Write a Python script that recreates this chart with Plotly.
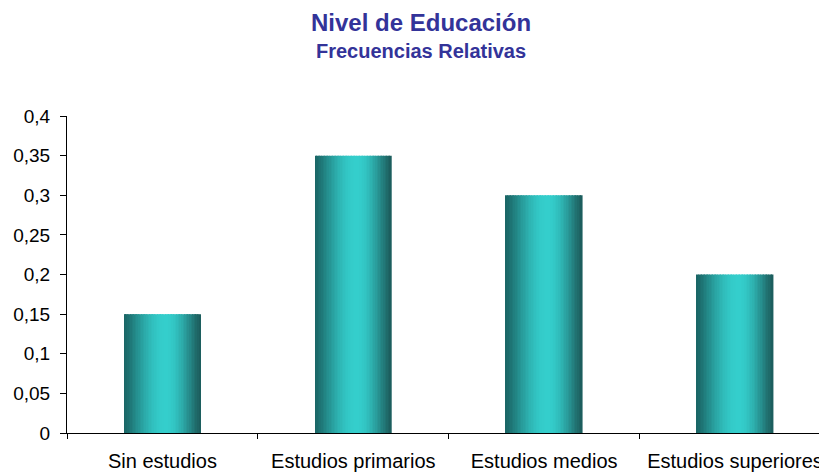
import plotly.graph_objects as go
import math

categories = ["Sin estudios", "Estudios primarios", "Estudios medios", "Estudios superiores"]
values = [0.15, 0.35, 0.30, 0.20]
ytick_vals = [0, 0.05, 0.1, 0.15, 0.2, 0.25, 0.3, 0.35, 0.4]
ytick_text = ["0", "0,05", "0,1", "0,15", "0,2", "0,25", "0,3", "0,35", "0,4"]

BAR_W = 0.40
N = 48
dark_l = (26, 100, 100)
dark_r = (28, 92, 92)
light = (52, 206, 204)

def shade(t):
    peak = 0.55
    if t <= peak:
        u = t / peak
        base = dark_l
    else:
        u = (1 - t) / (1 - peak)
        base = dark_r
    k = math.sin(u * math.pi / 2) ** 1.2
    return tuple(int(round(base[i] + (light[i] - base[i]) * k)) for i in range(3))

fig = go.Figure()
sw = BAR_W / N
for i in range(N):
    t = (i + 0.5) / N
    c = "rgb(%d,%d,%d)" % shade(t)
    fig.add_trace(go.Bar(
        x=categories, y=values,
        width=[sw * 1.15] * len(values),
        offset=[-BAR_W / 2 + i * sw] * len(values),
        marker=dict(color=c, line=dict(width=0)),
        showlegend=False, hoverinfo="skip",
    ))

fig.update_layout(
    width=819, height=473,
    margin=dict(l=67, r=0, t=116, b=40, autoexpand=False),
    paper_bgcolor="white", plot_bgcolor="white",
    barmode="overlay",
    font=dict(family="Liberation Sans, Arial, sans-serif", size=19, color="black"),
    xaxis=dict(
        range=[-0.5, 3.44], showline=True, linecolor="black", linewidth=1,
        ticks="outside", ticklen=5, tickcolor="black", tickson="boundaries",
        showgrid=False, tickfont=dict(size=20), ticklabelstandoff=10,
        automargin=False,
    ),
    yaxis=dict(
        range=[0, 0.4], showline=True, linecolor="black", linewidth=1,
        ticks="outside", ticklen=6, tickcolor="black",
        tickvals=ytick_vals, ticktext=ytick_text,
        showgrid=False, zeroline=False, tickfont=dict(size=19), ticklabelstandoff=6,
        automargin=False,
    ),
    annotations=[
        dict(text="<b>Nivel de Educación</b>", xref="paper", yref="paper",
             x=0.4707, y=1.2965, showarrow=False, xanchor="center", yanchor="middle",
             font=dict(size=24, color="#333399")),
        dict(text="<b>Frecuencias Relativas</b>", xref="paper", yref="paper",
             x=0.4707, y=1.205, showarrow=False, xanchor="center", yanchor="middle",
             font=dict(size=20, color="#333399")),
    ],
)

fig.write_html("out.html")
